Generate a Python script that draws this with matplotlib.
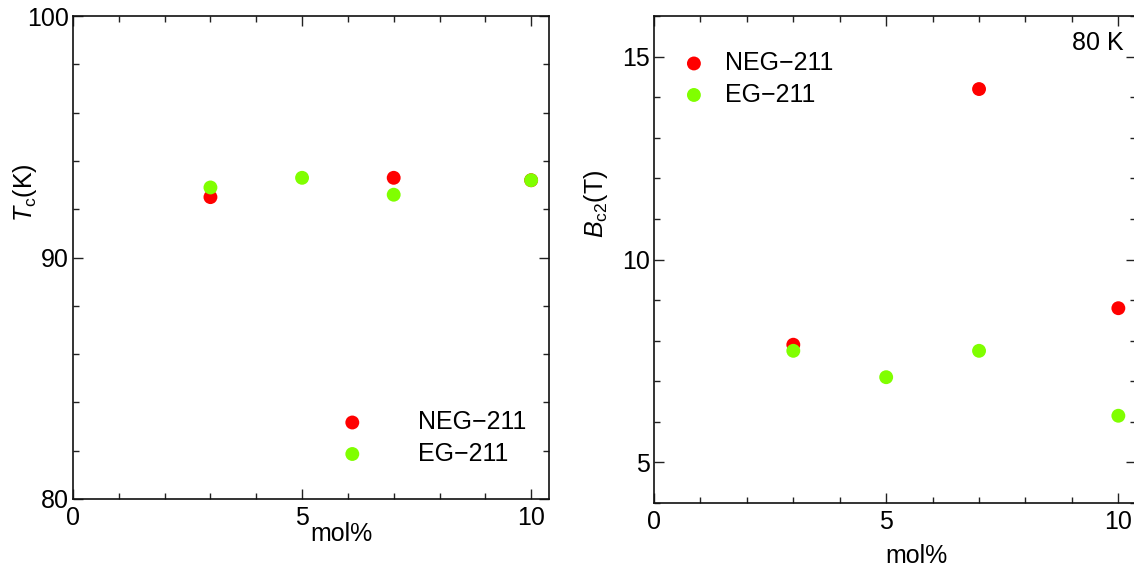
import matplotlib
matplotlib.use("Agg")
import matplotlib.pyplot as plt
from matplotlib.ticker import MultipleLocator

plt.rcParams['font.family'] = ['Liberation Sans', 'DejaVu Sans']
plt.rcParams['mathtext.fontset'] = 'custom'
plt.rcParams['mathtext.rm'] = 'Liberation Sans'
plt.rcParams['mathtext.it'] = 'Liberation Sans:italic'

# Doping level (mol%) of the 211 additions
mol_neg = [3, 7, 10]
mol_eg = [3, 5, 7, 10]

# Critical temperature Tc (K)
tc_neg = [92.5, 93.3, 93.2]
tc_eg = [92.9, 93.3, 92.6, 93.2]

# Upper critical field Bc2 (T) at 80 K
bc2_neg = [7.9, 14.2, 8.8]
bc2_eg = [7.75, 7.1, 7.75, 6.15]

labels = ["NEG\u2212211", "EG\u2212211"]
RED = "#ff0000"
GREEN = "#80ff00"
FS = 18

W, H = 1134, 570
fig = plt.figure(figsize=(W / 100, H / 100), dpi=100)

def px_axes(x0, x1, ytop, ybot):
    return fig.add_axes([x0 / W, 1 - ybot / H, (x1 - x0) / W, (ybot - ytop) / H])

def style(ax, ymajor, yminor):
    ax.xaxis.set_major_locator(MultipleLocator(5))
    ax.xaxis.set_minor_locator(MultipleLocator(1))
    ax.yaxis.set_major_locator(MultipleLocator(ymajor))
    ax.yaxis.set_minor_locator(MultipleLocator(yminor))
    ax.tick_params(which='both', direction='in', top=True, right=True,
                   labeltop=False, labelright=False, labelsize=FS, width=1.0, color='#222222')
    ax.tick_params(axis='x', which='major', length=7, pad=5)
    ax.tick_params(axis='y', which='major', length=7, pad=3)
    ax.tick_params(which='minor', length=4)
    for s in ax.spines.values():
        s.set_linewidth(1.2)
        s.set_color('#111111')

# Left panel: Tc
ax1 = px_axes(73, 549, 16, 499)
ax1.scatter(mol_neg, tc_neg, s=100, color=RED, edgecolors='none', label=labels[0], zorder=3)
ax1.scatter(mol_eg, tc_eg, s=100, color=GREEN, edgecolors='none', label=labels[1], zorder=3)
ax1.set_xlim(0, 10.39)
ax1.set_ylim(80, 100)
style(ax1, 10, 2)
ax1.set_ylabel(r"$\mathit{T}_{\mathrm{c}}$(K)", fontsize=FS)
ax1.yaxis.set_label_coords(-0.072, 0.635)
ax1.set_xlabel("mol%", fontsize=FS)
ax1.xaxis.set_label_coords(0.564, -0.047)
leg1 = ax1.legend(loc='lower left', bbox_to_anchor=(0.508, 0.033), frameon=False,
                  fontsize=FS, handlelength=1.6, handletextpad=1.82, labelspacing=0.3,
                  borderpad=0.2)

# Right panel: Bc2
ax2 = px_axes(654, 1136, 16, 503)
ax2.scatter(mol_neg, bc2_neg, s=100, color=RED, edgecolors='none', label=labels[0], zorder=3)
ax2.scatter(mol_eg, bc2_eg, s=100, color=GREEN, edgecolors='none', label=labels[1], zorder=3)
ax2.set_xlim(0, 10.38)
ax2.set_ylim(4, 16)
style(ax2, 5, 1)
ax2.set_ylabel(r"$\mathit{B}_{\mathrm{c2}}$(T)", fontsize=FS)
ax2.yaxis.set_label_coords(-0.092, 0.614)
ax2.set_xlabel("mol%", fontsize=FS)
ax2.xaxis.set_label_coords(0.545, -0.085)
ax2.text(0.975, 0.945, "80 K", transform=ax2.transAxes, ha='right', va='center', fontsize=FS)
leg2 = ax2.legend(loc='upper left', bbox_to_anchor=(0.005, 0.964), frameon=False,
                  fontsize=FS, handlelength=1.6, handletextpad=0.44, labelspacing=0.3,
                  borderpad=0.2)

fig.savefig("out.png", dpi=100)
